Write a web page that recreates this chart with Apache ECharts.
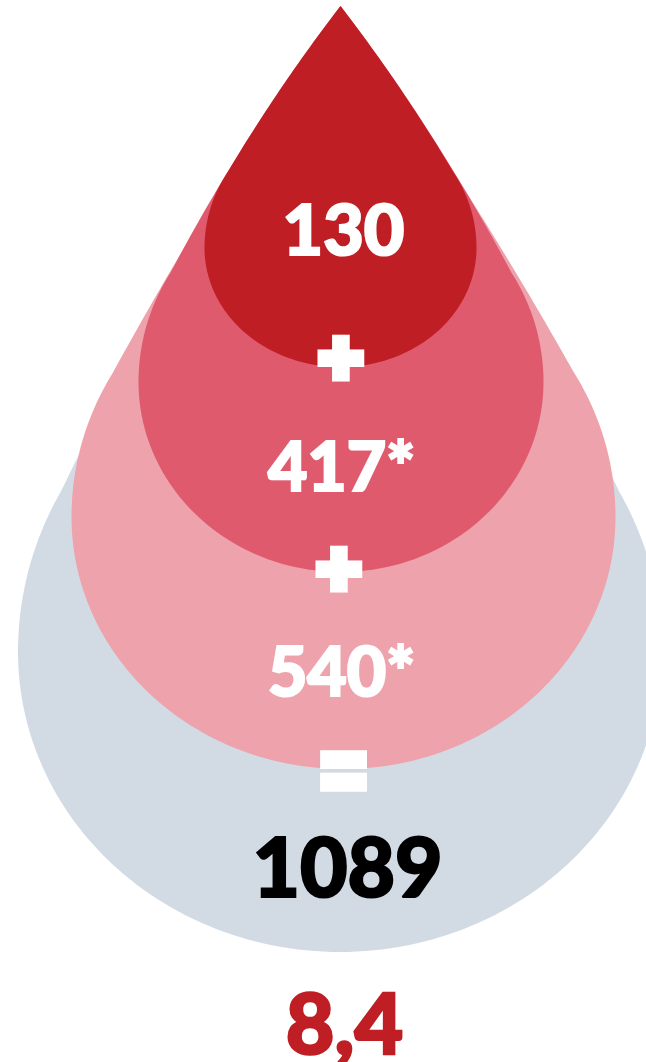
<!DOCTYPE html>
<html>
<head>
<meta charset="utf-8">
<style>
  html, body { margin: 0; padding: 0; background: #ffffff; }
  #chart { width: 646px; height: 1062px; }
</style>
<script src="https://cdn.jsdelivr.net/npm/echarts@6/dist/echarts.min.js"></script>
</head>
<body>
<div id="chart"></div>
<script>
// ---- data ----
const values = [130, 417, 540, 1089];
const valueMarks = ['', '*', '*', ''];
const operators = ['+', '+', '='];
const resultText = ['8,4'];

// ---- layout & style (canvas units, 646 x 1062) ----
const TIP = { x: 340.5, y: 6 };
const dropLayout = [
  { cx: 340.5, cy: 248, r: 136,   ryb: 119, bulge: 6,  color: '#be1e24', labelY: 232, labelSize: 70, labelColor: '#ffffff' },
  { cx: 341,   cy: 382, r: 202.5, ryb: 190, bulge: 13, color: '#e05a6e', labelY: 469, labelSize: 68, labelColor: '#ffffff' },
  { cx: 343.5, cy: 517, r: 272,   ryb: 252, bulge: 12, color: '#eda2ac', labelY: 674, labelSize: 68, labelColor: '#ffffff' },
  { cx: 340,   cy: 652, r: 322,   ryb: 300, bulge: 20, color: '#d2dbe4', labelY: 871, labelSize: 82, labelColor: '#000000' }
];
const labelX = [343.5, 341.5, 341.5, 347.5];
const opLayout = [
  { x: 341,   y: 361,   size: 57,  stroke: 11,  scaleX: 1 },
  { x: 339,   y: 572,   size: 57,  stroke: 11,  scaleX: 1 },
  { x: 343.5, y: 776.5, size: 100, stroke: 7.3, scaleX: 0.67 }
];
const resultLayout = { x: 344.5, y: 1027, size: 84, color: '#be1e24' };
const FONT = 'Lato';

function quad(p0, c, p1, t) {
  const a = (1 - t) * (1 - t), b = 2 * t * (1 - t), d = t * t;
  return [a * p0[0] + b * c[0] + d * p1[0], a * p0[1] + b * c[1] + d * p1[1]];
}

function dropOutline(d) {
  const T = [TIP.x, TIP.y];
  const dx = d.cx - T[0], dy = d.cy - T[1];
  const dist = Math.hypot(dx, dy);
  const theta = Math.atan2(dy, dx);
  const alpha = Math.asin(d.r / dist);
  const len = Math.sqrt(dist * dist - d.r * d.r);
  const tp = (ang) => [T[0] + len * Math.cos(ang), T[1] + len * Math.sin(ang)];
  const A = tp(theta - alpha), B = tp(theta + alpha);
  const PR = A[0] > B[0] ? A : B;
  const PL = A[0] > B[0] ? B : A;
  const phiR = Math.atan2(PR[1] - d.cy, PR[0] - d.cx);
  let phiL = Math.atan2(PL[1] - d.cy, PL[0] - d.cx);
  if (phiL < 0) phiL += 2 * Math.PI;

  // slightly convex sides
  const ur = [PR[0] - T[0], PR[1] - T[1]], lr = Math.hypot(ur[0], ur[1]);
  const CR = [(T[0] + PR[0]) / 2 + d.bulge * ur[1] / lr, (T[1] + PR[1]) / 2 - d.bulge * ur[0] / lr];
  const ul = [PL[0] - T[0], PL[1] - T[1]], ll = Math.hypot(ul[0], ul[1]);
  const CL = [(T[0] + PL[0]) / 2 - d.bulge * ul[1] / ll, (T[1] + PL[1]) / 2 + d.bulge * ul[0] / ll];

  const pts = [];
  const N = 40;
  for (let i = 0; i <= N; i++) pts.push(quad(T, CR, PR, i / N));
  for (let i = 1; i <= 40; i++) {
    const a = phiR + (0 - phiR) * i / 40;
    pts.push([d.cx + d.r * Math.cos(a), d.cy + d.r * Math.sin(a)]);
  }
  for (let i = 1; i <= 120; i++) {
    const a = Math.PI * i / 120;
    pts.push([d.cx + d.r * Math.cos(a), d.cy + d.ryb * Math.sin(a)]);
  }
  for (let i = 1; i <= 40; i++) {
    const a = Math.PI + (phiL - Math.PI) * i / 40;
    pts.push([d.cx + d.r * Math.cos(a), d.cy + d.r * Math.sin(a)]);
  }
  for (let i = 1; i < N; i++) pts.push(quad(PL, CL, T, i / N));
  return pts;
}

// draw order: largest first
const dropData = values.map((v, i) => [i, v]).reverse();

const chart = echarts.init(document.getElementById('chart'), null, { renderer: 'canvas' });
chart.setOption({
  animation: false,
  backgroundColor: '#ffffff',
  grid: { left: 0, right: 0, top: 0, bottom: 0 },
  xAxis: { type: 'value', min: 0, max: 646, show: false },
  yAxis: { type: 'value', min: 0, max: 1062, inverse: true, show: false },
  series: [
    {
      type: 'custom',
      coordinateSystem: 'cartesian2d',
      clip: false,
      data: dropData,
      renderItem: function (params, api) {
        const i = api.value(0);
        const v = api.value(1);
        const d = dropLayout[i];
        const pts = dropOutline(d).map(p => api.coord(p));
        const lp = api.coord([labelX[i], d.labelY]);
        return {
          type: 'group',
          children: [
            { type: 'polygon', shape: { points: pts }, style: { fill: d.color } },
            {
              type: 'text', x: lp[0], y: lp[1],
              style: {
                text: String(v) + valueMarks[i],
                fill: d.labelColor,
                stroke: d.labelColor, lineWidth: 2.2, lineJoin: 'round',
                fontSize: d.labelSize, fontWeight: 900, fontFamily: FONT,
                align: 'center', verticalAlign: 'middle'
              }
            }
          ]
        };
      }
    },
    {
      type: 'custom',
      coordinateSystem: 'cartesian2d',
      clip: false,
      data: operators.map((o, i) => [i, 0]),
      renderItem: function (params, api) {
        const i = api.value(0);
        const L = opLayout[i];
        const p = api.coord([L.x, L.y]);
        return {
          type: 'text', x: p[0], y: p[1], scaleX: L.scaleX, scaleY: 1,
          style: {
            text: operators[i],
            fill: '#ffffff',
            stroke: '#ffffff', lineWidth: L.stroke, lineJoin: 'miter',
            fontSize: L.size, fontWeight: 'bold', fontFamily: 'DejaVu Sans',
            align: 'center', verticalAlign: 'middle'
          }
        };
      }
    },
    {
      type: 'custom',
      coordinateSystem: 'cartesian2d',
      clip: false,
      data: resultText.map((t, i) => [i, 0]),
      renderItem: function (params, api) {
        const p = api.coord([resultLayout.x, resultLayout.y]);
        return {
          type: 'text', x: p[0], y: p[1],
          style: {
            text: resultText[api.value(0)],
            fill: resultLayout.color,
            stroke: resultLayout.color, lineWidth: 2.4, lineJoin: 'round',
            fontSize: resultLayout.size, fontWeight: 900, fontFamily: FONT,
            align: 'center', verticalAlign: 'middle'
          }
        };
      }
    }
  ]
});
</script>
</body>
</html>
